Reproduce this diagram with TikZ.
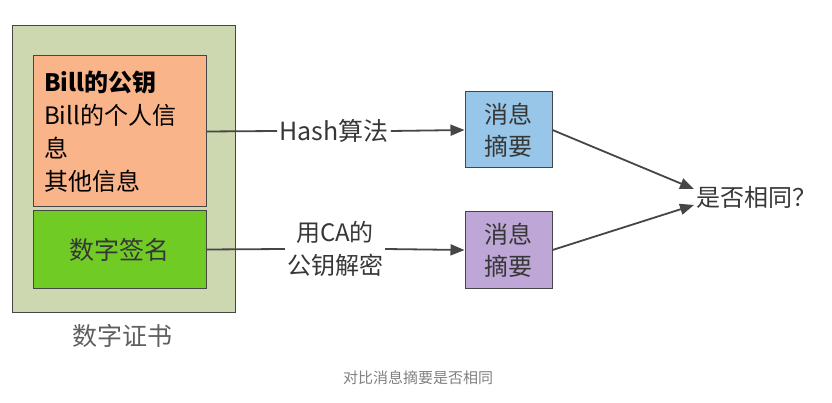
\documentclass[tikz,border=0pt]{standalone}
\usepackage{fontspec}
\setmainfont{Noto Sans CJK SC}
\usetikzlibrary{positioning}
\usetikzlibrary{arrows.meta}
\definecolor{certgreen}{RGB}{205,216,176}
\definecolor{infoorange}{RGB}{250,180,138}
\definecolor{signgreen}{RGB}{112,204,36}
\definecolor{mdblue}{RGB}{152,198,232}
\definecolor{mdpurple}{RGB}{190,166,214}
\definecolor{edgegray}{RGB}{70,70,70}
\definecolor{txtgray}{RGB}{55,55,55}

\begin{document}
\begin{tikzpicture}[x=1pt,y=1pt,
  box/.style={draw=edgegray, line width=1pt, inner sep=0pt},
  link/.style={draw=edgegray, line width=1.8pt},
  tip/.style={-{Triangle[length=14pt,width=11pt]}},
  lbl/.style={inner sep=2pt, text=txtgray, align=center, font=\fontsize{24}{33}\selectfont}]

 \useasboundingbox (0,0) rectangle (832,-403);

 \node[box, fill=certgreen, minimum width=223pt, minimum height=286pt] (cert) at (123.5,-169) {}; % Certificate
 \node[box, fill=infoorange, minimum width=173pt, minimum height=151pt, text width=151pt, align=left,
   font=\fontsize{24}{33}\selectfont] (info) at (119.5,-131.5)
   {\textbf{Bill的公钥}\\Bill的个人信\\息\\其他信息};
 \node[box, fill=signgreen, minimum width=173pt, minimum height=77pt, text=txtgray,
   font=\fontsize{25}{28}\selectfont] (sign) at (119.5,-249.5) {数字签名};
 \node[text=txtgray!80, font=\fontsize{25}{28}\selectfont] (certlbl) at (122,-336) {数字证书};

 \node[lbl, font=\fontsize{25}{30}\selectfont] (hash) at (334,-131) {Hash算法};
 \node[lbl] (decrypt) at (335,-249) {用CA的\\公钥解密};

 \node[box, fill=mdblue, minimum width=87pt, minimum height=76pt, lbl, font=\fontsize{24}{32}\selectfont] (md1) at (508.5,-130) {消息\\摘要};
 \node[box, fill=mdpurple, minimum width=87pt, minimum height=76pt, lbl, font=\fontsize{24}{32}\selectfont] (md2) at (508.5,-250) {消息\\摘要};

 \node[lbl, anchor=west] (same) at (694,-197) {是否相同？};

 % Links
 \draw[link] (info.east) -- (hash.west);
 \draw[link, tip] (hash.east) -- (md1.west);
 \draw[link] (sign.east) -- (decrypt.west);
 \draw[link, tip] (decrypt.east) -- (md2.west);
 \draw[link, tip] (md1.east) -- ([yshift=8pt]same.west);
 \draw[link, tip] (md2.east) -- ([yshift=-8pt]same.west);

 \node[text=gray, font=\fontsize{15}{18}\selectfont] (caption) at (418,-378) {对比消息摘要是否相同};

\end{tikzpicture}
\end{document}
